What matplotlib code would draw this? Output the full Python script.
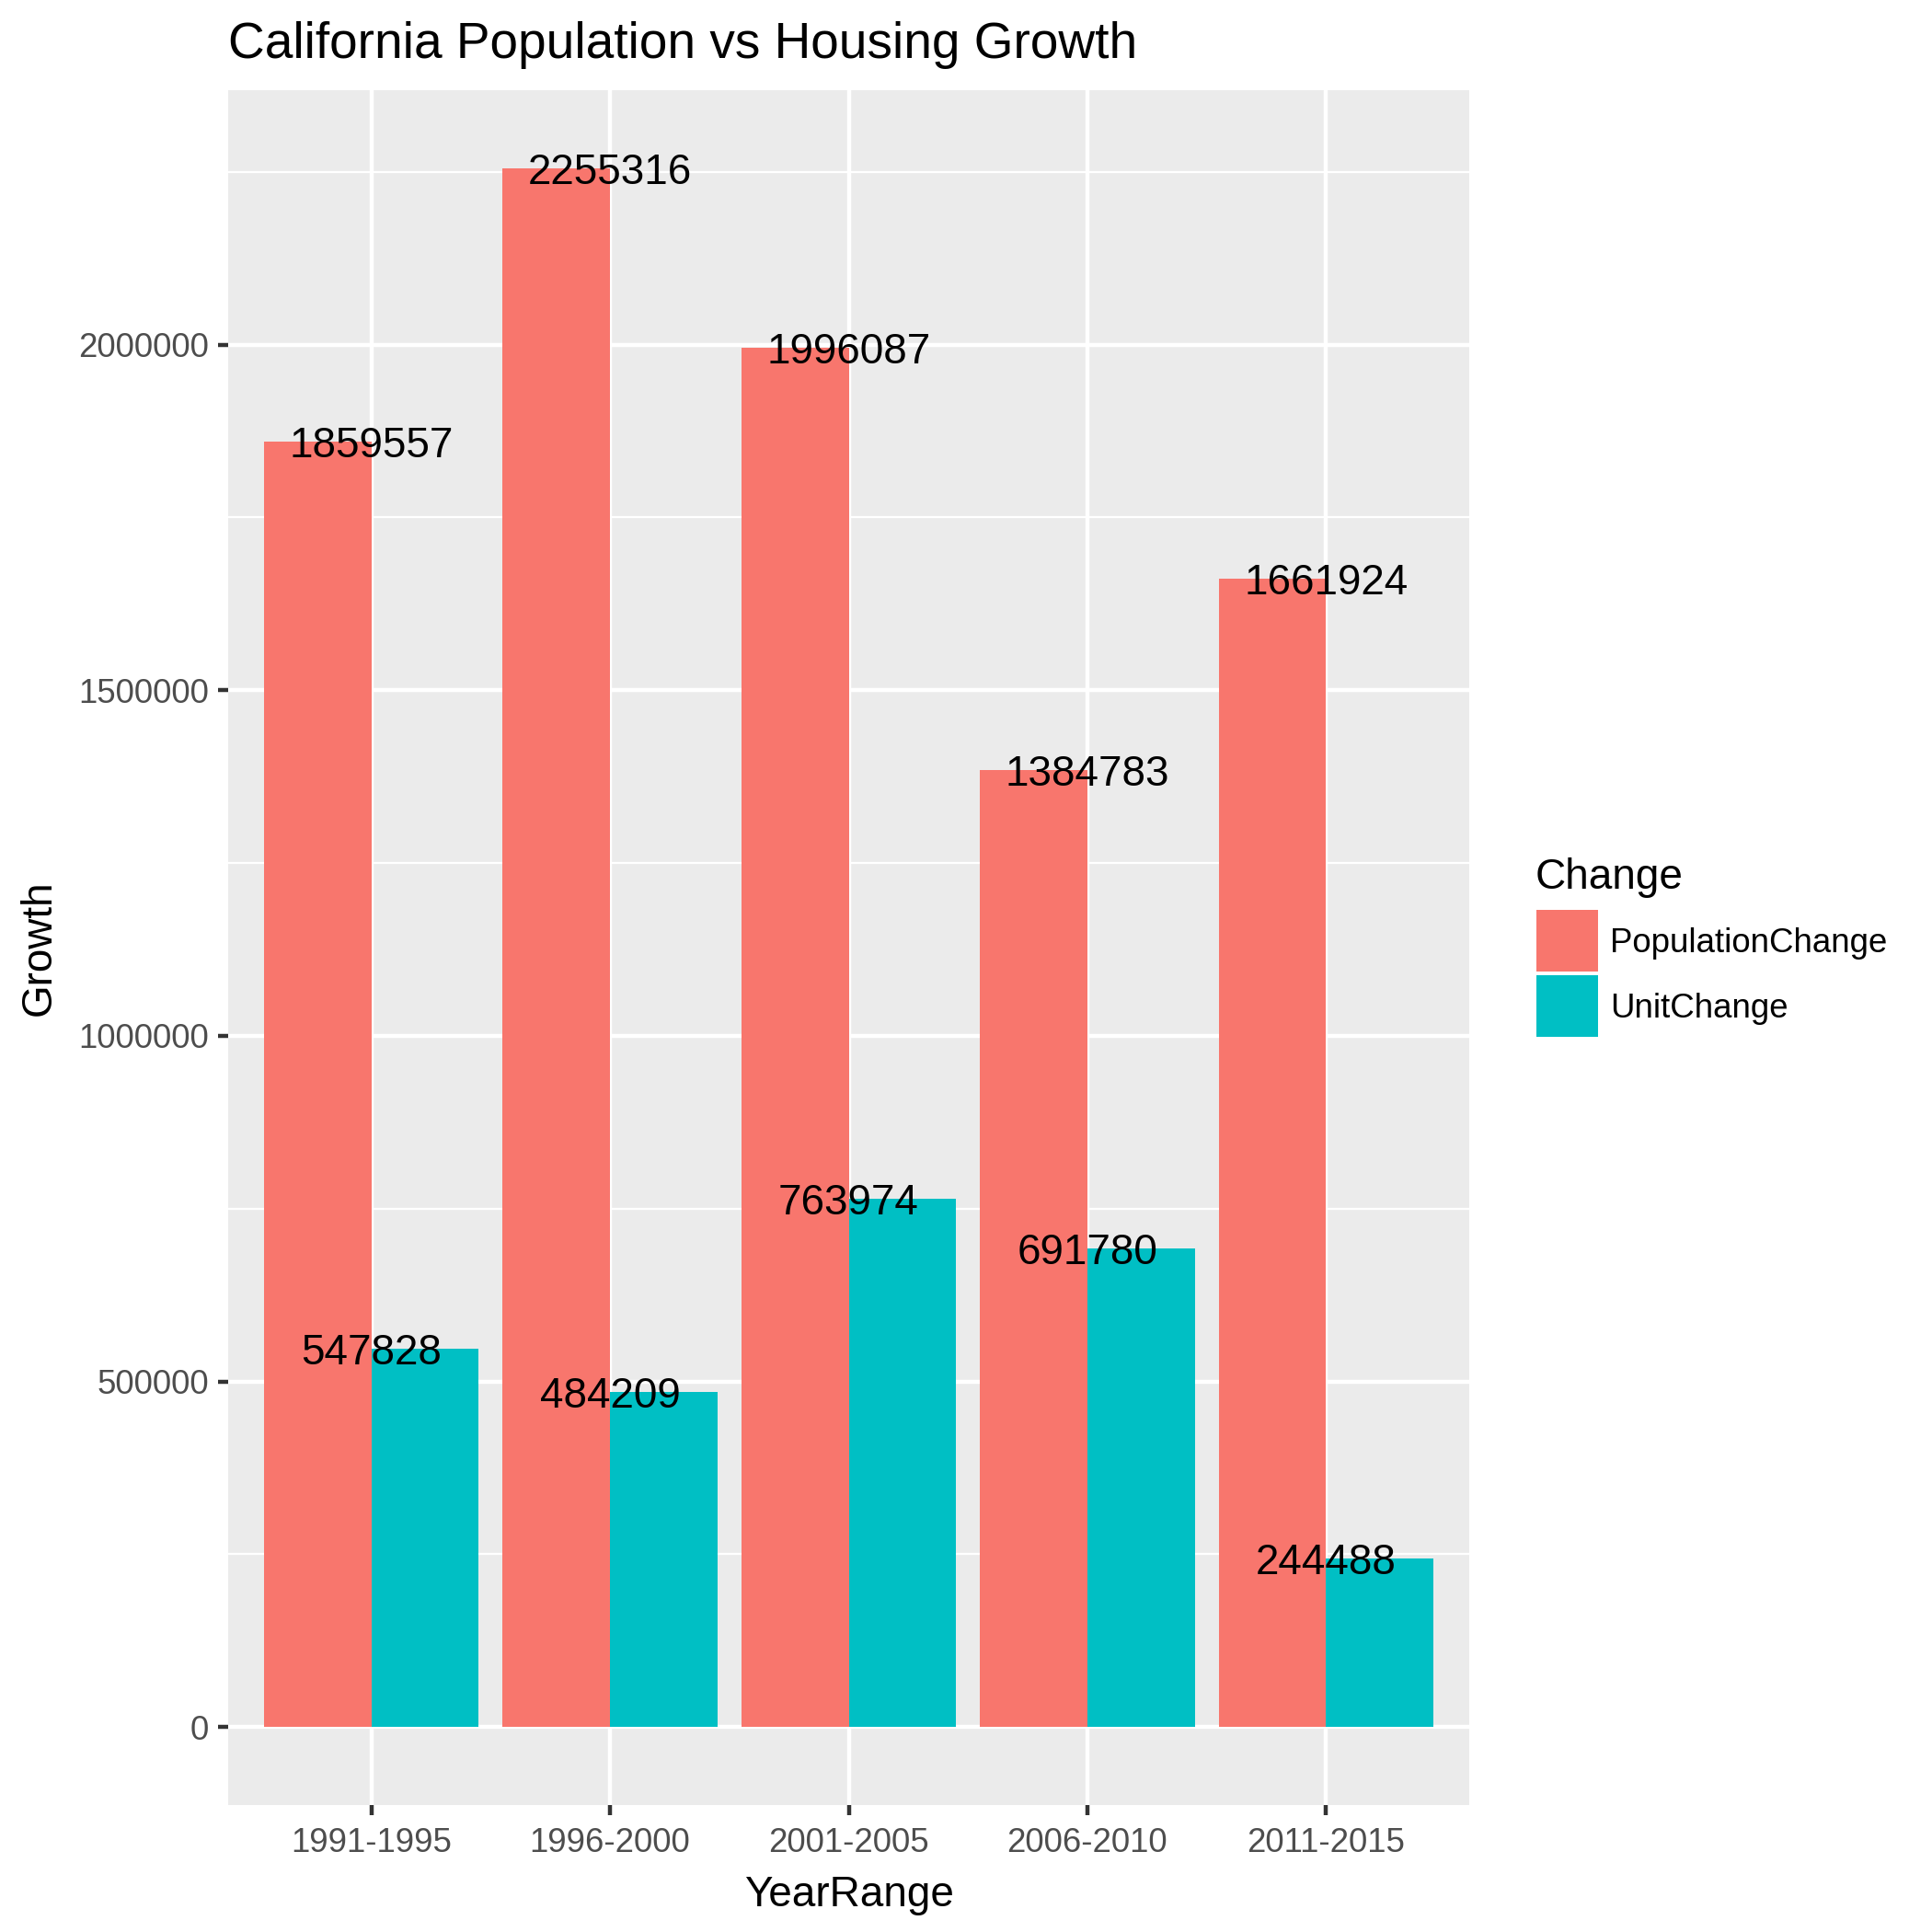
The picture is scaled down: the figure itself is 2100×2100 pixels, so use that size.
import matplotlib
matplotlib.use("Agg")
import matplotlib.pyplot as plt
from matplotlib.patches import Rectangle
import numpy as np

plt.rcParams['font.family'] = ['Liberation Sans', 'DejaVu Sans']

year_ranges = ["1991-1995", "1996-2000", "2001-2005", "2006-2010", "2011-2015"]
population_change = [1859557, 2255316, 1996087, 1384783, 1661924]
unit_change = [547828, 484209, 763974, 691780, 244488]
series_names = ["PopulationChange", "UnitChange"]
series_colors = ["#F8766D", "#00BFC4"]
y_ticks = [0, 500000, 1000000, 1500000, 2000000]

W, H = 2100, 2100
fig = plt.figure(figsize=(7, 7), dpi=300)
ax = fig.add_axes([248 / W, 1 - 1962 / H, (1597 - 248) / W, (1962 - 98) / H])
ax.set_facecolor("#EBEBEB")

x = np.arange(1, len(year_ranges) + 1)
bw = 0.45
ax.bar(x - bw / 2, population_change, width=bw, color=series_colors[0], zorder=3)
ax.bar(x + bw / 2, unit_change, width=bw, color=series_colors[1], zorder=3)

for xi, v in zip(x, population_change):
    ax.text(xi, v, str(v), ha="center", va="center_baseline", fontsize=11, color="black", zorder=4)
for xi, v in zip(x, unit_change):
    ax.text(xi, v, str(v), ha="center", va="center_baseline", fontsize=11, color="black", zorder=4)

ymax = max(population_change)
ax.set_ylim(-0.05 * ymax, ymax * 1.05)
ax.set_xlim(0.4, len(year_ranges) + 0.6)

ax.set_yticks(y_ticks)
ax.set_yticklabels([str(t) for t in y_ticks])
ax.set_yticks([250000, 750000, 1250000, 1750000, 2250000], minor=True)
ax.set_xticks(x)
ax.set_xticklabels(year_ranges)

ax.grid(True, which="major", color="white", linewidth=1.07, zorder=0)
ax.grid(True, which="minor", axis="y", color="white", linewidth=0.53, zorder=0)
ax.set_axisbelow(True)
for s in ax.spines.values():
    s.set_visible(False)
ax.tick_params(axis="both", which="major", length=2.75, width=1.07, color="#333333",
               labelsize=8.8, labelcolor="#4D4D4D", pad=2.2)
ax.tick_params(axis="x", which="major", pad=3.0)
ax.tick_params(axis="both", which="minor", length=0)

ax.set_xlabel("YearRange", fontsize=11, color="black", labelpad=4)
ax.set_ylabel("Growth", fontsize=11, color="black", labelpad=5)

fig.text(248 / W, 1 - 49 / H, "California Population vs Housing Growth",
         fontsize=13.2, color="black", ha="left", va="center")

# legend
fig.text(1669 / W, 1 - 954 / H, "Change", fontsize=11, ha="left", va="center")
key = 67
for i, (name, col) in enumerate(zip(series_names, series_colors)):
    top = 989 + i * 71
    fig.patches.append(Rectangle((1670 / W, 1 - (top + key) / H), key / W, key / H,
                                 transform=fig.transFigure, facecolor=col, edgecolor="none"))
    fig.text(1750 / W, 1 - (top + key / 2 + 3) / H, name, fontsize=8.8, ha="left", va="center")

fig.savefig("out.png", dpi=300, facecolor="white")
